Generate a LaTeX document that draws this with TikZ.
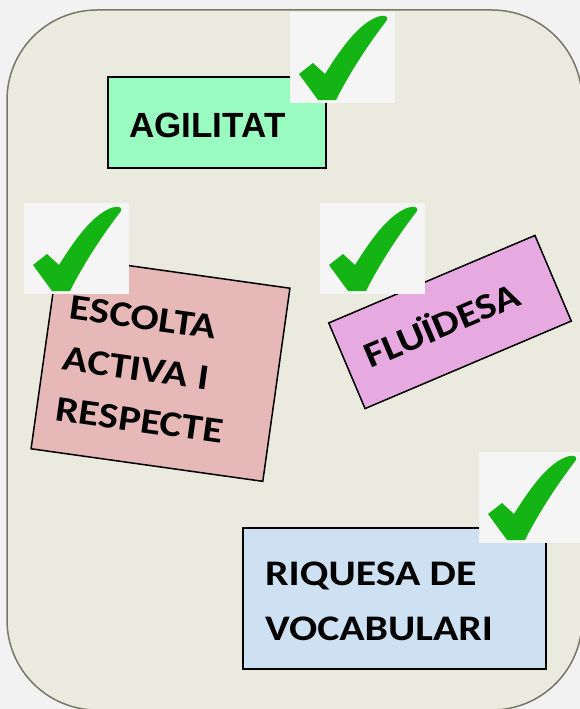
\documentclass[tikz,border=0pt]{standalone}
\usepackage{fontspec}
\setmainfont{Carlito}
\newfontfamily\calwide[FakeStretch=1.16]{Carlito}
\newfontfamily\arialfam{Liberation Sans}
\definecolor{outbg}{RGB}{242,242,242}
\definecolor{panelc}{RGB}{234,234,223}
\definecolor{panelline}{RGB}{120,120,105}
\definecolor{agic}{RGB}{153,251,191}
\definecolor{escc}{RGB}{230,184,183}
\definecolor{fluc}{RGB}{230,169,224}
\definecolor{riqc}{RGB}{205,225,242}
\definecolor{tickbgc}{RGB}{245,245,245}
\definecolor{tickc}{RGB}{20,180,20}
\begin{document}
\begin{tikzpicture}[x=1pt,y=-1pt,
  card/.style={draw=black,line width=1.5pt,inner sep=0pt,outer sep=0pt},
  cal/.style={font=\calwide\fontsize{36}{36}\selectfont\bfseries,inner sep=0pt},
  okmark/.pic={
    \fill[tickbgc] (0,0) rectangle (105,91);
    \fill[tickc] (9,62) -- (23,51) -- (35,62)
      .. controls (55,30) and (70,12) .. (87,5)
      .. controls (92,3) and (99,3) .. (97,8)
      .. controls (80,30) and (60,60) .. (46,88)
      -- (28,88) -- cycle;
  }]
\useasboundingbox (0,0) rectangle (580,709);
\fill[outbg] (0,0) rectangle (580,709);
\clip (0,0) rectangle (580,709);
% panel
\draw[fill=panelc,draw=panelline,line width=1.5pt,rounded corners=90pt] (7,10) rectangle (582,710);

% AGILITAT
\node[card,fill=agic,minimum width=218pt,minimum height=91pt] (agi) at (217,122.5) {};
\node[inner sep=0pt,anchor=base west,font=\arialfam\fontsize{35}{35}\selectfont\bfseries] (agit) at (129,137) {AGILITAT};

% ESCOLTA
\begin{scope}[shift={(160.5,368.5)},rotate=-8,transform shape]
  \node[card,fill=escc,minimum width=234pt,minimum height=195pt] (esc) at (0,0) {};
  \node[cal,anchor=base west] (esc1) at (-98,-36.5) {ESCOLTA};
  \node[cal,anchor=base west] (esc2) at (-98,15) {ACTIVA I};
  \node[cal,anchor=base west] (esc3) at (-98,66) {RESPECTE};
\end{scope}

% FLUIDESA
\begin{scope}[shift={(450,322)},rotate=23,transform shape]
  \node[card,fill=fluc,minimum width=224pt,minimum height=93pt] (flu) at (0,0) {};
  \node[cal,anchor=base] (flut) at (-9,12) {FLUÏDESA};
\end{scope}

% RIQUESA
\node[card,fill=riqc,minimum width=303pt,minimum height=141pt] (riq) at (394.5,598.5) {};
\node[cal,anchor=base west] (riq1) at (265,585) {RIQUESA DE};
\node[cal,anchor=base west] (riq2) at (265,640) {VOCABULARI};

% check marks
\pic at (290,12) {okmark};
\pic at (24,203) {okmark};
\pic at (320,203) {okmark};
\pic at (479,452) {okmark};
\end{tikzpicture}
\end{document}
